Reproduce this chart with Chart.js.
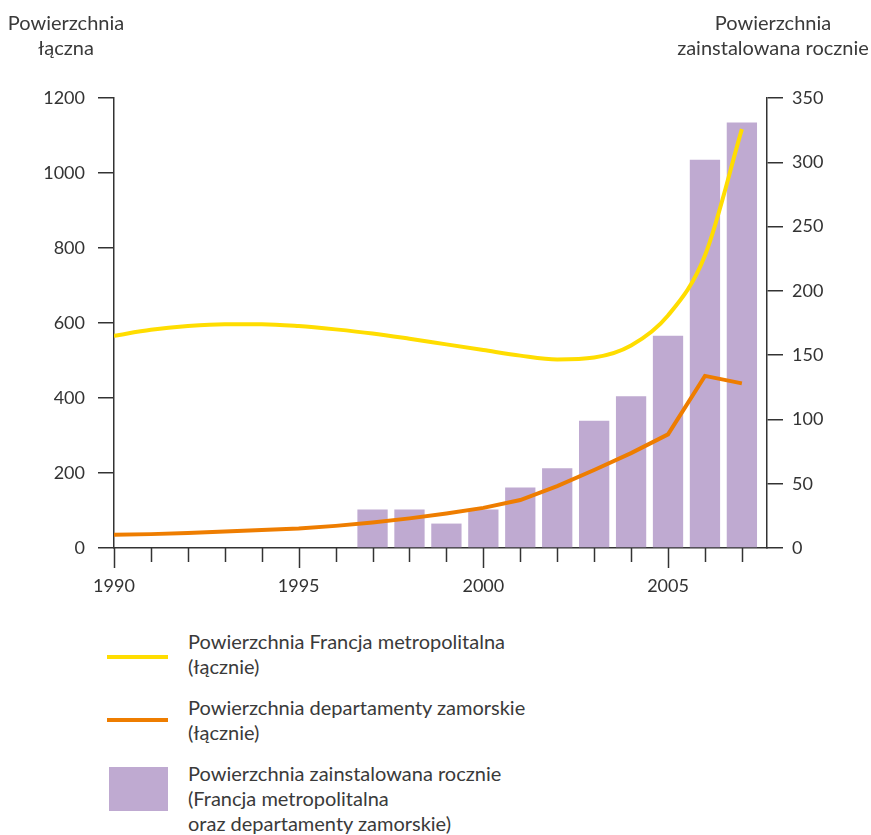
<!DOCTYPE html>
<html lang="pl">
<head>
<meta charset="utf-8">
<script src="https://cdn.jsdelivr.net/npm/chart.js@4/dist/chart.umd.min.js"></script>
<style>
  body { margin: 0; background: #fff; font-family: Lato, "Open Sans", sans-serif; color: #3a3a3a; }
  #wrap { position: relative; width: 871px; height: 835px; }
  #box { position: absolute; left: 0; top: 0; width: 871px; height: 600px; }
  .tytul { position: absolute; font-size: 20px; line-height: 25px; text-align: center; }
  .leg { position: absolute; left: 188px; font-size: 20px; line-height: 25px; }
  .znak { position: absolute; }
</style>
</head>
<body>
<div id="wrap">
  <div id="box"><canvas id="grafica"></canvas></div>
  <div class="tytul" style="left:0; width:132px; top:10px;">Powierzchnia<br>łączna</div>
  <div class="tytul" style="left:673px; width:200px; top:10px;">Powierzchnia<br>zainstalowana rocznie</div>

  <div class="znak" style="left:107px; top:655px; width:61px; height:4px; background:#ffdd00;"></div>
  <div class="leg" style="top:629px;">Powierzchnia Francja metropolitalna<br>(łącznie)</div>
  <div class="znak" style="left:107px; top:718px; width:61px; height:4px; background:#ee7d00;"></div>
  <div class="leg" style="top:695px;">Powierzchnia departamenty zamorskie<br>(łącznie)</div>
  <div class="znak" style="left:109px; top:767px; width:59px; height:44px; background:#bfaad1;"></div>
  <div class="leg" style="top:761px;">Powierzchnia zainstalowana rocznie<br>(Francja metropolitalna<br>oraz departamenty zamorskie)</div>
</div>
<script>
// lata i serie
const lata = [1990, 1991, 1992, 1993, 1994, 1995, 1996, 1997, 1998, 1999,
              2000, 2001, 2002, 2003, 2004, 2005, 2006, 2007];
const metropolia = [566, 582, 592, 597, 597, 592, 583, 572, 558, 543,
                    528, 513, 503, 508, 540, 620, 780, 1117];
const zamorskie = [35, 37, 40, 44, 48, 52, 59, 68, 79, 92,
                   107, 128, 165, 208, 253, 303, 459, 439];
const lataSlupki = [1997, 1998, 1999, 2000, 2001, 2002, 2003, 2004, 2005, 2006, 2007];
const rocznie = [30, 30, 19, 30, 47, 62, 99, 118, 165, 302, 331];
const etykietyX = [1990, 1995, 2000, 2005];

const ciemny = '#333333';
const fuente = { family: 'Lato, "Open Sans", sans-serif', size: 18 };

// kreski na osi X: dluzsze co 5 lat
const kreskiX = {
  id: 'kreskiX',
  afterDraw(chart) {
    const sx = chart.scales.x;
    const ctx = chart.ctx;
    ctx.save();
    ctx.strokeStyle = ciemny;
    ctx.lineWidth = 1.5;
    sx.ticks.forEach(t => {
      const px = Math.round(sx.getPixelForValue(t.value)) + 0.5;
      const len = etykietyX.includes(t.value) ? 20 : 14;
      ctx.beginPath();
      ctx.moveTo(px, sx.top);
      ctx.lineTo(px, sx.top + len);
      ctx.stroke();
    });
    ctx.restore();
  }
};

const config = {
  data: {
    datasets: [
      {
        type: 'line',
        label: 'Powierzchnia Francja metropolitalna (łącznie)',
        data: lata.map((r, i) => ({ x: r, y: metropolia[i] })),
        borderColor: '#ffdd00',
        borderWidth: 4,
        pointRadius: 0,
        cubicInterpolationMode: 'monotone',
        yAxisID: 'y',
        order: 0
      },
      {
        type: 'line',
        label: 'Powierzchnia departamenty zamorskie (łącznie)',
        data: lata.map((r, i) => ({ x: r, y: zamorskie[i] })),
        borderColor: '#ee7d00',
        borderWidth: 4,
        pointRadius: 0,
        tension: 0,
        yAxisID: 'y',
        order: 0
      },
      {
        type: 'bar',
        label: 'Powierzchnia zainstalowana rocznie',
        data: lataSlupki.map((r, i) => ({ x: r, y: rocznie[i] })),
        backgroundColor: '#bfaad1',
        barPercentage: 0.82,
        categoryPercentage: 1,
        yAxisID: 'y1',
        order: 1
      }
    ]
  },
  options: {
    responsive: true,
    maintainAspectRatio: false,
    animation: false,
    layout: { padding: { top: 98, left: 0, right: 0, bottom: 0 } },
    plugins: { legend: { display: false }, tooltip: { enabled: false } },
    scales: {
      x: {
        type: 'linear',
        offset: false,
        min: 1990,
        max: 2007.68,
        afterFit: s => { s.height = 52; },
        grid: { display: true, drawOnChartArea: false, drawTicks: false, offset: false },
        border: { display: true, color: ciemny, width: 1.5 },
        ticks: {
          stepSize: 1,
          includeBounds: false,
          autoSkip: false,
          maxRotation: 0,
          padding: 27,
          color: ciemny,
          font: fuente,
          callback: v => etykietyX.includes(v) ? String(v) : ''
        }
      },
      y: {
        position: 'left',
        min: 0,
        max: 1200,
        afterFit: s => { s.width = 114; },
        grid: { drawOnChartArea: false, drawTicks: true, tickLength: 16, color: ciemny, lineWidth: 1.5 },
        border: { display: true, color: ciemny, width: 1.5 },
        ticks: { stepSize: 200, padding: 13, color: ciemny, font: fuente, callback: v => String(v) }
      },
      y1: {
        position: 'right',
        min: 0,
        max: 350,
        afterFit: s => { s.width = 104; },
        grid: { drawOnChartArea: false, drawTicks: true, tickLength: 16, color: ciemny, lineWidth: 1.5 },
        border: { display: true, color: ciemny, width: 1.5 },
        ticks: { stepSize: 50, padding: 9, color: ciemny, font: fuente, callback: v => String(v) }
      }
    }
  },
  plugins: [kreskiX]
};

const ctx = document.getElementById('grafica');
const migrafica = new Chart(ctx, config);
</script>
</body>
</html>
